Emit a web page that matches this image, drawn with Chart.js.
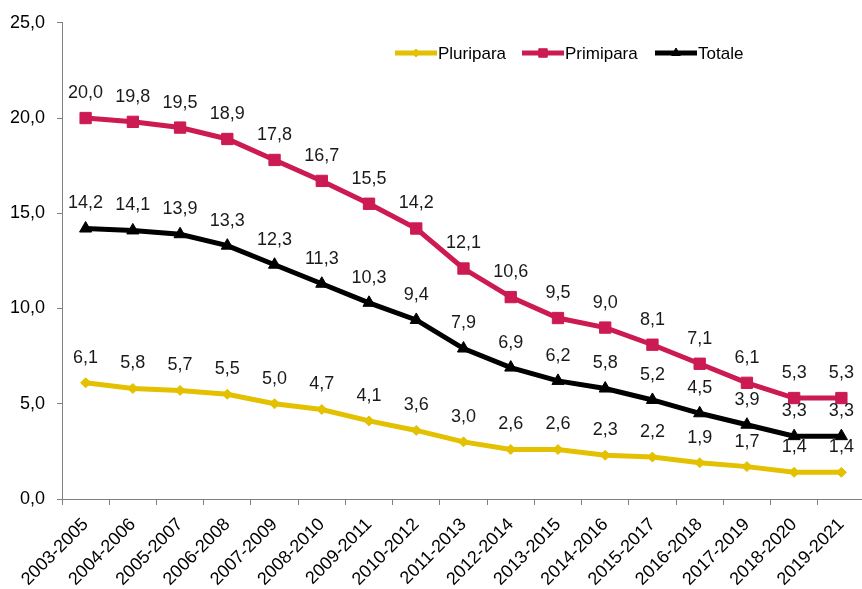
<!DOCTYPE html>
<html><head><meta charset="utf-8">
<script src="https://cdn.jsdelivr.net/npm/chart.js@4/dist/chart.umd.min.js"></script>
<style>
html,body{margin:0;padding:0;background:#fff;overflow:hidden;width:862px;height:589px}
#wrap{width:874px;height:589px}
</style></head><body>
<div id="wrap"><canvas id="c" width="874" height="589"></canvas></div>
<script>
const categories = ["2003-2005","2004-2006","2005-2007","2006-2008","2007-2009","2008-2010","2009-2011","2010-2012","2011-2013","2012-2014","2013-2015","2014-2016","2015-2017","2016-2018","2017-2019","2018-2020","2019-2021"];
const pluripara = [6.1,5.8,5.7,5.5,5.0,4.7,4.1,3.6,3.0,2.6,2.6,2.3,2.2,1.9,1.7,1.4,1.4];
const primipara = [20.0,19.8,19.5,18.9,17.8,16.7,15.5,14.2,12.1,10.6,9.5,9.0,8.1,7.1,6.1,5.3,5.3];
const totale = [14.2,14.1,13.9,13.3,12.3,11.3,10.3,9.4,7.9,6.9,6.2,5.8,5.2,4.5,3.9,3.3,3.3];
const seriesNames = ["Pluripara","Primipara","Totale"];

const FONT = "'Liberation Sans', Arial, sans-serif";
const fmt = v => v.toFixed(1).replace('.', ',');

const labelPlugin = {
  id: 'valLabels',
  afterDatasetsDraw(chart) {
    const ctx = chart.ctx;
    ctx.save();
    ctx.font = "18px " + FONT;
    ctx.fillStyle = "#1a1a1a";
    ctx.textAlign = "center";
    ctx.textBaseline = "middle";
    chart.data.datasets.forEach((ds, i) => {
      const meta = chart.getDatasetMeta(i);
      meta.data.forEach((pt, j) => {
        ctx.fillText(fmt(ds.data[j]), pt.x, pt.y - 25);
      });
    });
    ctx.restore();
  }
};

const legendPlugin = {
  id: 'lineLegend',
  afterDraw(chart) {
    const ctx = chart.ctx;
    const items = [
      {x: 395, ds: chart.data.datasets[0], r: 4},
      {x: 522, ds: chart.data.datasets[1], r: 6},
      {x: 655, ds: chart.data.datasets[2], r: 5}
    ];
    const y = 53;
    ctx.save();
    items.forEach(it => {
      const ds = it.ds;
      ctx.strokeStyle = ds.borderColor;
      ctx.lineWidth = 5;
      ctx.beginPath();
      ctx.moveTo(it.x, y);
      ctx.lineTo(it.x + 42, y);
      ctx.stroke();
      ctx.fillStyle = ds.borderColor;
      ctx.lineWidth = 1;
      Chart.helpers.drawPoint(ctx, {pointStyle: ds.pointStyle, radius: it.r, borderWidth: 1, rotation: 0}, it.x + 21, y);
      ctx.fillStyle = "#000";
      ctx.font = "17px " + FONT;
      ctx.textAlign = "left";
      ctx.textBaseline = "middle";
      ctx.fillText(ds.label, it.x + 43, y + 1);
    });
    ctx.restore();
  }
};

new Chart(document.getElementById('c'), {
  type: 'line',
  data: {
    labels: categories,
    datasets: [
      {label: seriesNames[0], data: pluripara, borderColor: "#E3C000", backgroundColor: "#E3C000", borderWidth: 5, pointStyle: 'rectRot', pointRadius: 5, pointBorderWidth: 1, tension: 0},
      {label: seriesNames[1], data: primipara, borderColor: "#CC1A52", backgroundColor: "#CC1A52", borderWidth: 5, pointStyle: 'rect', pointRadius: 8, pointBorderWidth: 1, tension: 0},
      {label: seriesNames[2], data: totale, borderColor: "#000000", backgroundColor: "#000000", borderWidth: 5, pointStyle: 'triangle', pointRadius: 7, pointBorderWidth: 1, tension: 0}
    ]
  },
  options: {
    responsive: false,
    animation: false,
    layout: {padding: {top: 22, right: 0, left: 0, bottom: 0}},
    plugins: {legend: {display: false}, tooltip: {enabled: false}, title: {display: false}},
    scales: {
      x: {
        offset: true,
        grid: {offset: true, drawOnChartArea: false, tickLength: 6, color: "#808080"},
        border: {color: "#808080", width: 1},
        ticks: {minRotation: 45, maxRotation: 45, autoSkip: false, color: "#000", font: {family: FONT, size: 18}, padding: 9},
        afterFit(s) { s.height = 90; }
      },
      y: {
        min: 0, max: 25,
        grid: {drawOnChartArea: false, tickLength: 5, color: "#808080"},
        border: {color: "#808080", width: 1},
        ticks: {stepSize: 5, color: "#000", font: {family: FONT, size: 18}, padding: 12, callback: v => fmt(v)},
        afterFit(s) { s.width = 62; }
      }
    }
  },
  plugins: [labelPlugin, legendPlugin]
});
</script>
</body></html>
